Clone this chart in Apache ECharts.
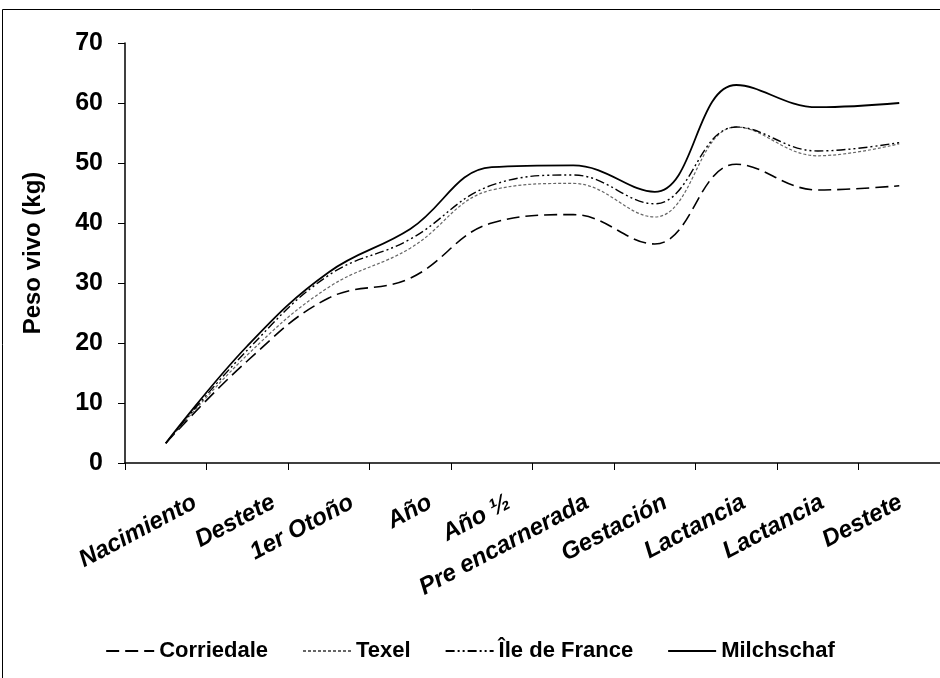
<!DOCTYPE html>
<html>
<head>
<meta charset="utf-8">
<script src="https://cdn.jsdelivr.net/npm/echarts@6/dist/echarts.min.js"></script>
<style>
  html, body { margin: 0; padding: 0; background: #fff; }
  #chart { width: 940px; height: 678px; }
</style>
</head>
<body>
<div id="chart"></div>
<script>
// etapas (eje x)
var categories = ['Nacimiento', 'Destete', '1er Otoño', 'Año', 'Año ½', 'Pre encarnerada', 'Gestación', 'Lactancia', 'Lactancia', 'Destete'];
// peso vivo (kg) por raza
var corriedale = [3.3, 17, 27.5, 30.8, 40, 41.4, 36.5, 49.8, 45.5, 46.2];
var texel = [3.3, 18, 29.3, 35.8, 45.5, 46.6, 41, 56, 51.2, 53.2];
var ileDeFrance = [3.3, 18.8, 31.3, 37.3, 46.3, 48, 43.2, 56, 52, 53.4];
var milchschaf = [3.3, 19.5, 31.8, 39, 49.3, 49.6, 45.2, 63, 59.3, 60];
var yTicks = [0, 70, 10];

var font = 'Liberation Sans, Arial, sans-serif';

function serie(name, data, color, type, width) {
    return {
        name: name,
        type: 'line',
        data: data,
        smooth: 0.4,
        symbol: 'none',
        lineStyle: { color: color, width: width, type: type },
        itemStyle: { color: color }
    };
}

var chart = echarts.init(document.getElementById('chart'));
chart.setOption({
    animation: false,
    backgroundColor: '#fff',
    grid: [
        { left: 125, top: 43, width: 820, height: 420, containLabel: false },
        // solo para las etiquetas del eje x, algo corridas a la derecha
        { left: 156, top: 43, width: 820, height: 420, containLabel: false }
    ],
    legend: {
        top: 635,
        left: 'center',
        itemWidth: 48,
        itemHeight: 12,
        itemGap: 34,
        itemStyle: { opacity: 0 },
        textStyle: { fontFamily: font, fontWeight: 'bold', fontSize: 22, color: '#000' },
        data: ['Corriedale', 'Texel', 'Île de France', 'Milchschaf']
    },
    graphic: [{
        type: 'rect',
        shape: { x: 2.5, y: 9.5, width: 960, height: 700 },
        style: { fill: 'none', stroke: '#000', lineWidth: 1 },
        silent: true
    }],
    xAxis: [{
        type: 'category',
        data: categories,
        boundaryGap: true,
        axisLine: { lineStyle: { color: '#000', width: 1.5 } },
        axisTick: { show: true, interval: 0, length: 7, lineStyle: { color: '#000' } },
        axisLabel: { show: false, interval: 0 },
        splitLine: { show: false }
    }, {
        type: 'category',
        gridIndex: 1,
        data: categories,
        boundaryGap: true,
        axisLine: { show: false },
        axisTick: { show: false },
        axisLabel: {
            interval: 0,
            rotate: 28,
            margin: 38,
            color: '#000',
            fontFamily: font,
            fontWeight: 'bold',
            fontStyle: 'italic',
            fontSize: 24
        },
        splitLine: { show: false }
    }],
    yAxis: [{
        type: 'value',
        min: yTicks[0],
        max: yTicks[1],
        interval: yTicks[2],
        name: 'Peso vivo (kg)',
        nameLocation: 'middle',
        nameGap: 80,
        nameTextStyle: { fontFamily: font, fontWeight: 'bold', fontSize: 24, color: '#000' },
        axisLine: { show: true, lineStyle: { color: '#000', width: 1.5 } },
        axisTick: { show: true, length: 7, lineStyle: { color: '#000' } },
        axisLabel: { margin: 22, color: '#000', fontFamily: font, fontWeight: 'bold', fontSize: 25 },
        splitLine: { show: false }
    }, {
        type: 'value',
        gridIndex: 1,
        min: yTicks[0],
        max: yTicks[1],
        show: false
    }],
    series: [
        serie('Corriedale', corriedale, '#000', [13, 6], 1.6),
        serie('Texel', texel, '#666', [3, 2], 1.2),
        serie('Île de France', ileDeFrance, '#000', [9, 3, 2, 3, 2, 3], 1.4),
        serie('Milchschaf', milchschaf, '#000', 'solid', 1.8)
    ]
});
</script>
</body>
</html>
